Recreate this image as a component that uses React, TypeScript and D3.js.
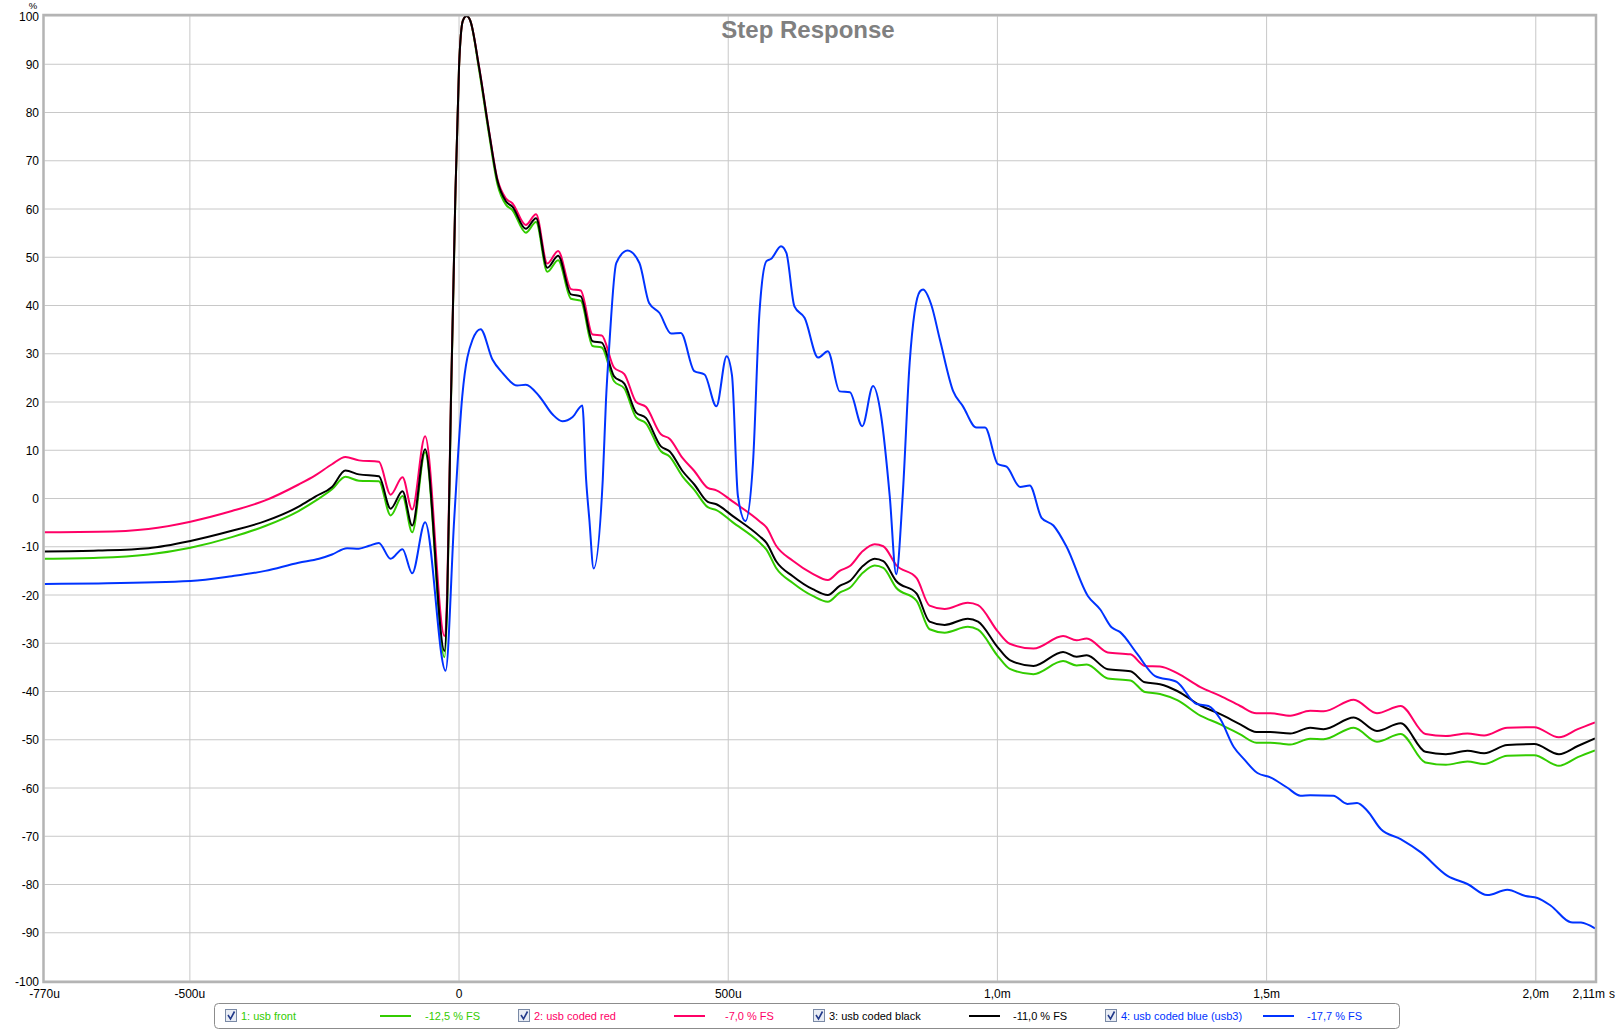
import React from "react";
import * as d3 from "d3";

const W = 1617;
const H = 1030;

// time grid (microseconds) shared by the three similar traces
const tMain = [-770, -670, -577, -499, -422, -360, -298, -267, -236, -211, -186, -149, -127, -105, -87, -63, -27, -22, -15, -7, 0, 7, 14, 21, 37, 56, 71, 87, 99, 124, 143, 164, 184, 208, 226, 248, 265, 288, 307, 329, 347, 375, 391, 415, 437, 462, 478, 508, 558, 571, 589, 620, 657, 685, 707, 726, 750, 772, 788, 812, 850, 874, 902, 945, 964, 1001, 1023, 1067, 1122, 1147, 1166, 1205, 1247, 1274, 1302, 1334, 1377, 1414, 1451, 1481, 1507, 1544, 1581, 1606, 1662, 1705, 1749, 1795, 1833, 1873, 1904, 1947, 1997, 2043, 2078, 2110];

const greenVals = [-12.5, -12.3, -11.6, -10.2, -8.0, -5.7, -2.6, -0.5, 1.9, 4.5, 3.7, 3.6, -3.5, 0.5, -7.0, 9.6, -32.9, -22, 20, 61.5, 89.5, 99, 100, 99, 89, 75.2, 65.3, 60.9, 59.8, 55.1, 57.3, 47.0, 49.4, 41.4, 41.0, 31.6, 31.3, 24.3, 22.8, 16.8, 15.6, 9.8, 8.7, 4.6, 1.8, -1.8, -2.4, -4.9, -9.1, -10.6, -14.4, -17.5, -20.2, -21.4, -19.5, -18.5, -15.4, -13.9, -14.4, -18.5, -21.2, -27.1, -27.8, -26.6, -27.2, -32.7, -35.3, -36.4, -33.7, -34.6, -34.4, -37.3, -37.7, -40.1, -40.5, -41.8, -45.0, -46.8, -48.9, -50.6, -50.6, -51.0, -49.8, -49.9, -47.5, -50.4, -48.8, -54.7, -55.2, -54.5, -55.0, -53.3, -53.2, -55.4, -53.6, -52.2];

const redVals = [-7.0, -6.9, -6.3, -4.8, -2.6, -0.4, 2.9, 4.8, 7.1, 8.6, 7.9, 7.6, 0.8, 4.4, -2.3, 12.9, -28.5, -19, 21, 62, 89.5, 99, 100, 99, 89.6, 76, 66.3, 62.2, 61.2, 56.7, 58.9, 48.7, 51.3, 43.4, 43.1, 34.0, 33.8, 27.1, 25.8, 20.0, 19.0, 13.3, 12.4, 8.4, 5.7, 2.2, 1.7, -0.6, -4.7, -6.0, -9.8, -12.9, -15.6, -16.9, -15.0, -14.0, -10.9, -9.5, -9.9, -13.8, -16.5, -22.2, -22.9, -21.6, -22.1, -27.6, -30.1, -31.1, -28.5, -29.4, -29.0, -31.9, -32.3, -34.7, -34.8, -36.2, -39.1, -40.9, -43.0, -44.5, -44.5, -45.0, -44.0, -44.1, -41.7, -44.5, -43.0, -48.8, -49.2, -48.7, -49.1, -47.5, -47.4, -49.5, -47.8, -46.4];

const blackVals = [-11.0, -10.8, -10.3, -8.8, -6.7, -4.7, -1.7, 0.4, 2.4, 5.8, 5.0, 4.6, -2.1, 1.5, -5.6, 10.2, -31.6, -21, 20.5, 62, 89.5, 99, 100, 99, 89.5, 75.8, 66, 61.6, 60.5, 55.9, 58.1, 47.8, 50.3, 42.3, 41.9, 32.6, 32.3, 25.3, 23.8, 17.8, 16.7, 10.8, 9.8, 5.7, 2.9, -0.7, -1.2, -3.6, -7.8, -9.2, -13.0, -16.1, -18.8, -20.0, -18.1, -17.1, -14.0, -12.5, -13.0, -17.1, -19.7, -25.5, -26.2, -24.9, -25.5, -30.9, -33.5, -34.7, -31.8, -32.8, -32.5, -35.4, -35.8, -38.1, -38.5, -39.9, -42.9, -44.7, -46.8, -48.4, -48.4, -48.7, -47.5, -47.8, -45.4, -48.2, -46.6, -52.5, -53.0, -52.3, -52.8, -51.1, -50.9, -53.0, -51.3, -49.7];

const tBlue = [-770, -670, -499, -422, -360, -298, -260, -236, -208, -186, -167, -149, -127, -105, -87, -63, -25, -9, 6, 25, 40, 62, 81, 108, 124, 149, 174, 192, 211, 229, 236, 242, 250, 267, 273, 279, 292, 313, 335, 353, 372, 394, 412, 437, 456, 478, 497, 507, 518, 532, 546, 558, 571, 580, 598, 608, 623, 642, 667, 685, 707, 726, 749, 769, 784, 800, 812, 824, 837, 856, 862, 877, 893, 918, 936, 961, 977, 1001, 1017, 1042, 1060, 1082, 1104, 1128, 1168, 1191, 1212, 1228, 1259, 1293, 1333, 1370, 1392, 1414, 1439, 1458, 1483, 1507, 1538, 1563, 1581, 1624, 1650, 1668, 1687, 1712, 1749, 1786, 1836, 1873, 1910, 1947, 1981, 2003, 2028, 2065, 2084, 2110];

const blueVals = [-17.7, -17.6, -17.1, -16.1, -15.0, -13.3, -12.5, -11.6, -10.3, -10.4, -9.8, -9.2, -12.5, -10.5, -15.5, -4.9, -35.7, -4.3, 21.2, 32.9, 35.1, 28.8, 26.0, 23.4, 23.6, 21.2, 17.4, 16.0, 16.9, 19.3, 4.0, -4.3, -14.5, 4.0, 20.5, 31.6, 48.8, 51.4, 48.8, 40.5, 38.5, 34.2, 34.3, 26.4, 25.7, 19.1, 29.5, 25.5, 0.5, -4.7, 7.4, 38.5, 49.2, 49.7, 52.3, 50.9, 39.8, 37.4, 29.2, 30.5, 22.2, 22.0, 15.0, 23.3, 17.1, 0.5, -15.7, 0.5, 28.1, 42.9, 43.3, 40.2, 33.0, 22.2, 19.1, 14.7, 14.7, 7.1, 6.6, 2.4, 2.7, -4.0, -5.6, -9.9, -20.2, -23.0, -26.7, -27.7, -32.1, -36.8, -38.0, -42.6, -43.0, -45.7, -51.5, -54.0, -56.9, -57.8, -59.9, -61.6, -61.5, -61.6, -63.3, -63.1, -64.7, -68.5, -70.6, -73.3, -78.2, -79.9, -82.2, -81.1, -82.4, -82.8, -84.4, -87.8, -87.9, -89.1];

const xGridTicks = [-500, 0, 500, 1000, 1500, 2000];
const xTickLabels = ["-500u", "0", "500u", "1,0m", "1,5m", "2,0m"];
const yTicks = d3.range(-100, 101, 10);

const seriesNames = ["1: usb front", "2: usb coded red", "3: usb coded black", "4: usb coded blue (usb3)"];
const seriesLevels = ["-12,5 % FS", "-7,0 % FS", "-11,0 % FS", "-17,7 % FS"];
const seriesColors = ["#33cc00", "#ff0066", "#000000", "#0033ff"];
const labelColors = ["#33cc00", "#ff0066", "#000000", "#0033ff"];

const PL = 44.5, PR = 1595, PT = 16, PB = 981;

export default function App() {
  const x = d3.scaleLinear().domain([-770, 2110]).range([PL, PR]);
  const y = d3.scaleLinear().domain([-100, 100]).range([PB, PT]);
  const line = d3.line<[number, number]>().x(d => x(d[0])).y(d => y(d[1])).curve(d3.curveMonotoneX);

  const series = [
    tMain.map((t, i) => [t, greenVals[i]] as [number, number]),
    tMain.map((t, i) => [t, redVals[i]] as [number, number]),
    tMain.map((t, i) => [t, blackVals[i]] as [number, number]),
    tBlue.map((t, i) => [t, blueVals[i]] as [number, number]),
  ];

  const font = "'Liberation Sans', Arial, sans-serif";
  const legendX = [225, 518, 813, 1105];
  const legendLineX = [380, 674, 969, 1263];
  const legendValX = [425, 725, 1013, 1307];

  return (
    <svg width={W} height={H} style={{ position: "absolute", left: 0, top: 0, background: "#fff" }} fontFamily={font}>
      <defs>
        <clipPath id="plotclip">
          <rect x={PL} y={PT} width={PR - PL} height={PB - PT} />
        </clipPath>
      </defs>
      <rect x={0} y={0} width={W} height={H} fill="#fff" />
      {/* grid */}
      {yTicks.map(v => (
        <line key={"gy" + v} x1={PL} x2={PR} y1={y(v)} y2={y(v)} stroke="#c8c8c8" strokeWidth={1} />
      ))}
      {xGridTicks.map(v => (
        <line key={"gx" + v} x1={x(v)} x2={x(v)} y1={PT} y2={PB} stroke="#c8c8c8" strokeWidth={1} />
      ))}
      {/* title */}
      <text x={808} y={38} textAnchor="middle" fontSize={24} fontWeight="bold" fill="#808080">Step Response</text>
      {/* traces */}
      <g clipPath="url(#plotclip)" fill="none" strokeWidth={2} strokeLinejoin="round">
        {series.map((s, i) => (
          <path key={i} d={line(s) || ""} stroke={seriesColors[i]} />
        ))}
      </g>
      {/* frame */}
      <rect x={PL - 1} y={PT - 1} width={PR - PL + 2} height={PB - PT + 2} fill="none" stroke="#b4b4b4" strokeWidth={2.5} />
      {/* y labels */}
      {yTicks.map(v => (
        <text key={"ly" + v} x={39} y={y(v) + 4.5} textAnchor="end" fontSize={12} fill="#000">{v}</text>
      ))}
      <text x={33} y={8.5} textAnchor="middle" fontSize={9.5} fill="#000">%</text>
      {/* x labels */}
      <text x={x(-770)} y={998} textAnchor="middle" fontSize={12} fill="#000">-770u</text>
      {xGridTicks.map((v, i) => (
        <text key={"lx" + v} x={x(v)} y={998} textAnchor="middle" fontSize={12} fill="#000">{xTickLabels[i]}</text>
      ))}
      <text x={1605} y={998} textAnchor="end" fontSize={12} fill="#000">2,11m</text>
      <text x={1609} y={998} textAnchor="start" fontSize={12} fill="#000">s</text>
      {/* legend */}
      <rect x={214.5} y={1003.5} width={1185} height={25} rx={4} ry={4} fill="#fff" stroke="#8c8c8c" strokeWidth={1} />
      {seriesNames.map((name, i) => (
        <g key={"lg" + i}>
          <rect x={legendX[i] + 0.5} y={1009.5} width={11} height={12} fill="#e8ecf4" stroke="#7a8aa6" strokeWidth={1} />
          <path d={`M${legendX[i] + 3},${1015} L${legendX[i] + 5.5},${1019} L${legendX[i] + 9.5},${1011.5}`} fill="none" stroke="#21398a" strokeWidth={1.6} />
          <text x={legendX[i] + 16} y={1019.5} fontSize={11} fill={labelColors[i]}>{name}</text>
          <line x1={legendLineX[i]} x2={legendLineX[i] + 31} y1={1016} y2={1016} stroke={seriesColors[i]} strokeWidth={2} />
          <text x={legendValX[i]} y={1019.5} fontSize={11} fill={labelColors[i]}>{seriesLevels[i]}</text>
        </g>
      ))}
    </svg>
  );
}
